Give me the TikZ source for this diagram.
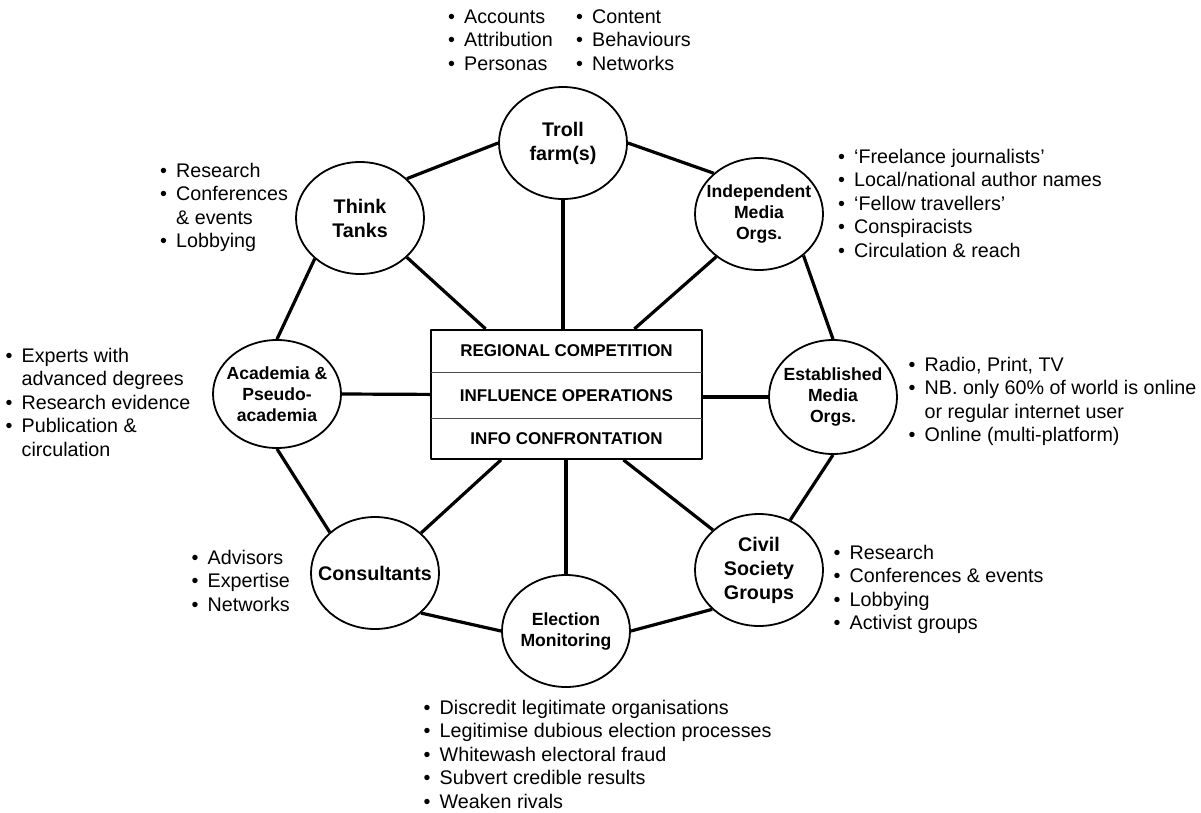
\documentclass[tikz,border=0pt]{standalone}
\usepackage{fontspec}
\setmainfont{Liberation Sans}
\usetikzlibrary{shapes.geometric,positioning,fit}
\newcommand{\itm}{\makebox[16pt][l]{•}}
\newcommand{\cnt}{\hspace*{16pt}}
\tikzset{
  every picture/.style={line join=round},
  actor/.style={draw,ellipse,line width=1.8pt,minimum width=128,minimum height=112,inner sep=0pt},
  bigtag/.style={font=\bfseries\fontsize{19.7}{24}\selectfont,align=center},
  smalltag/.style={font=\bfseries\fontsize{17.6}{21}\selectfont,align=center},
  notes/.style={anchor=base west,align=left,inner sep=0pt,font=\fontsize{19.7}{23.6}\selectfont},
  row/.style={minimum width=271,inner sep=0pt,font=\bfseries\fontsize{17}{20}\selectfont},
  link/.style={line width=3.2pt},
}
\begin{document}
\begin{tikzpicture}[x=1pt,y=-1pt]
  \useasboundingbox (0,0) rectangle (1201,812);
  % centre box
  \node[row,minimum height=42] (regional) at (566.5,351) {REGIONAL COMPETITION};
  \node[row,minimum height=46,below=0pt of regional] (influence) {INFLUENCE OPERATIONS};
  \node[row,minimum height=40,below=0pt of influence] (infoconf) {INFO CONFRONTATION};
  \node[draw,line width=1.8pt,inner sep=0pt,fit=(regional)(infoconf)] (core) {};
  \draw[black!70,line width=0.8pt] (regional.south west) -- (regional.south east);
  \draw[black!70,line width=0.8pt] (influence.south west) -- (influence.south east);
  % actors
  \node[actor,label={[bigtag]center:Troll\\farm(s)}] (troll) at (563,143) {};
  \node[actor,label={[bigtag]center:Think\\Tanks}] (think) at (360,218) {};
  \node[actor,label={[smalltag]center:Independent\\Media\\Orgs.}] (indep) at (759,214) {};
  \node[actor,minimum height=108,label={[smalltag]center:Academia \&\\Pseudo-\\academia}] (acad) at (277,394) {};
  \node[actor,minimum height=114,label={[smalltag]center:Established\\Media\\Orgs.}] (estab) at (833,397) {};
  \node[actor,label={[bigtag]center:Consultants}] (cons) at (375,573) {};
  \node[actor,label={[smalltag]center:Election\\Monitoring}] (elect) at (566,631) {};
  \node[actor,label={[bigtag]center:Civil\\Society\\Groups}] (civil) at (759,570) {};
  % outer ring
  \draw[link] (troll.west) -- (think.40);
  \draw[link] (troll.east) -- (indep.138);
  \draw[link] (indep.-43) -- (estab.north);
  \draw[link] (think.-138) -- (acad.north);
  \draw[link] (acad.south) -- (cons.138);
  \draw[link] (cons.-41) -- (elect.west);
  \draw[link] (civil.220) -- (elect.east);
  \draw[link] (estab.south) -- (civil.58);
  % spokes
  \draw[link] (troll.south) -- (troll.south |- core.north);
  \draw[link] (think.-40) -- (core.141);
  \draw[link] (indep.-135) -- (core.44);
  \draw[link] (acad.east) -- (core.west);
  \draw[link] (estab.west) -- (estab.west -| core.east);
  \draw[link] (cons.41) -- (core.225);
  \draw[link] (elect.north) -- (elect.north |- core.south);
  \draw[link] (civil.139) -- (core.-49);
  % notes (placed at the baseline of their last line)
  \node[notes] (trollA) at (448,70.2) {\itm Accounts\\\itm Attribution\\\itm Personas};
  \node[notes] (trollB) at (576,70.2) {\itm Content\\\itm Behaviours\\\itm Networks};
  \node[notes] (thinkN) at (160,247.8) {\itm Research\\\itm Conferences\\\cnt\& events\\\itm Lobbying};
  \node[notes] (indepN) at (838,257.4) {\itm ‘Freelance journalists’\\\itm Local/national author names\\\itm ‘Fellow travellers’\\\itm Conspiracists\\\itm Circulation \& reach};
  \node[notes] (acadN) at (5.5,456.4) {\itm Experts with\\\cnt advanced degrees\\\itm Research evidence\\\itm Publication \&\\\cnt circulation};
  \node[notes] (estabN) at (908.5,441.8) {\itm Radio, Print, TV\\\itm NB. only 60\% of world is online\\\cnt or regular internet user\\\itm Online (multi-platform)};
  \node[notes] (consN) at (191.5,611.2) {\itm Advisors\\\itm Expertise\\\itm Networks};
  \node[notes] (civilN) at (833.5,629.8) {\itm Research\\\itm Conferences \& events\\\itm Lobbying\\\itm Activist groups};
  \node[notes] (electN) at (423.5,808.4) {\itm Discredit legitimate organisations\\\itm Legitimise dubious election processes\\\itm Whitewash electoral fraud\\\itm Subvert credible results\\\itm Weaken rivals};
\end{tikzpicture}
\end{document}
